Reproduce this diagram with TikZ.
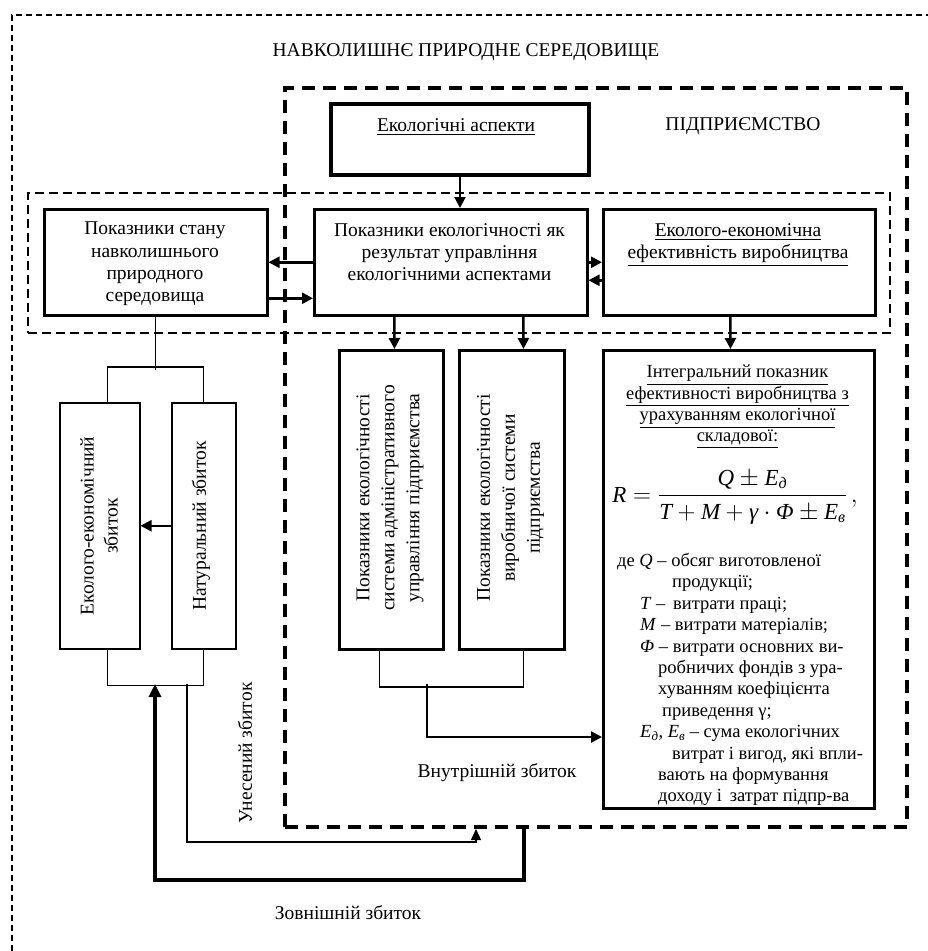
\documentclass[tikz,border=0pt]{standalone}
\usepackage{fontspec}
\setmainfont{Liberation Serif}
\usepackage{amsmath}
\usetikzlibrary{arrows.meta}
\newcommand{\mi}[1]{\text{\itshape #1}}
\tikzset{
  box/.style={draw, line width=2.5pt, inner sep=0pt, anchor=north west},
  heavybox/.style={draw, line width=3pt, inner sep=0pt, anchor=north west},
  lightbox/.style={draw, line width=1.5pt, inner sep=0pt, anchor=north west},
  arr/.style={line width=2.5pt, -{Triangle[length=11pt,width=11pt]}},
  heavyarr/.style={line width=3.5pt, -{Triangle[length=13pt,width=12pt]}},
  thinarr/.style={line width=1.3pt, -{Triangle[length=11pt,width=10pt]}},
  link/.style={line width=1.2pt},
  lbl/.style={font=\fontsize{19.5}{22.4}\selectfont, align=center, inner sep=0pt},
  vlbl/.style={font=\fontsize{19.5}{25}\selectfont, align=center, inner sep=0pt, rotate=90},
  smalllbl/.style={font=\fontsize{18.5}{21.3}\selectfont, inner sep=0pt},
}
\begin{document}
\begin{tikzpicture}[x=1pt,y=-1pt]
\useasboundingbox (0,0) rectangle (928,951);
\clip (0,0) rectangle (928,951);
% outer environment frame
\node[draw, line width=2pt, dash pattern=on 6pt off 4pt, anchor=north west, inner sep=0pt,
      minimum width=960pt, minimum height=990pt] (env) at (11,14) {};
\node[lbl] (envtxt) at (466,52) {НАВКОЛИШНЄ ПРИРОДНЕ СЕРЕДОВИЩЕ};
% enterprise frame
\node[draw, line width=4pt, dash pattern=on 13pt off 8pt, anchor=north west, inner sep=0pt,
      minimum width=622pt, minimum height=739pt] (ent) at (283,86) {};
\node[lbl] (enttxt) at (743,126) {ПІДПРИЄМСТВО};
% indicator band
\node[draw, line width=2pt, dash pattern=on 9pt off 5pt, anchor=north west, inner sep=0pt,
      minimum width=862pt, minimum height=140pt] (band) at (27,192) {};
% top box
\node[draw, line width=4pt, inner sep=0pt, anchor=north west, minimum width=258pt, minimum height=71pt] (eco) at (329,102) {};
\node[lbl] (ecotxt) at (456,127) {\underline{Екологічні аспекти}};
% three boxes in band
\node[box, minimum width=223pt, minimum height=106pt] (stan) at (43,208) {};
\node[lbl] (stantxt) at (155,264) {Показники стану\\навколишнього\\природного\\середовища};
\node[box, minimum width=273pt, minimum height=106pt] (mid) at (313,208) {};
\node[lbl, anchor=north] (midtxt) at (449.5,223) {Показники екологічності як\\результат управління\\екологічними аспектами};
\node[box, minimum width=272pt, minimum height=106pt] (right) at (602,208) {};
\node[lbl, anchor=north] (righttxt) at (738,223) {\underline{Еколого-економічна}\\\underline{ефективність виробництва}};
% lower enterprise boxes
\node[heavybox, minimum width=104pt, minimum height=299pt] (adm) at (338,349) {};
\node[vlbl] (admtxt) at (390,498) {Показники екологічності\\системи адміністративного\\управління підприємства};
\node[heavybox, minimum width=105pt, minimum height=299pt] (prod) at (458,349) {};
\node[vlbl] (prodtxt) at (510.5,498) {Показники екологічності\\виробничої системи\\підприємства};
\node[heavybox, minimum width=271pt, minimum height=458pt] (int) at (602,349) {};
\node[smalllbl, align=center, anchor=north] (inttitle) at (737.5,365) {\underline{Інтегральний показник}\\\underline{ефективності виробництва з}\\\underline{урахуванням екологічної}\\\underline{складової:}};
\node[inner sep=0pt, font=\fontsize{23}{28}\selectfont] (formula) at (735,497)
  {$\mi{R} = \dfrac{\mi{Q} \pm \mi{E}_{\mi{д}}}{\mi{T} + \mi{M} + \mi{γ}\cdot \mi{Φ} \pm \mi{E}_{\mi{в}}}\,,$};
\node[smalllbl, align=left, anchor=north west, font=\fontsize{18.5}{21.4}\selectfont] (intlist) at (617,553)
  {де \textit{Q} – обсяг виготовленої\\
   \hspace*{55pt}продукції;\\
   \hspace*{23pt}\textit{T} –\, витрати праці;\\
   \hspace*{23pt}\textit{M} – витрати матеріалів;\\
   \hspace*{23pt}\textit{Φ} – витрати основних ви-\\
   \hspace*{41pt}робничих фондів з ура-\\
   \hspace*{41pt}хуванням коефіцієнта\\
   \hspace*{45pt}приведення γ;\\
   \hspace*{23pt}\textit{E}\textsubscript{\textit{д}}, \textit{E}\textsubscript{\textit{в}} – сума екологічних\\
   \hspace*{55pt}витрат і вигод, які впли-\\
   \hspace*{41pt}вають на формування\\
   \hspace*{41pt}доходу і\, затрат підпр-ва};
% damage boxes (left)
\node[lightbox, minimum width=80pt, minimum height=246pt] (ecoec) at (59,402) {};
\node[vlbl, font=\fontsize{19.5}{24}\selectfont] (ecoectxt) at (99,526) {Еколого-економічний\\збиток};
\node[lightbox, minimum width=64pt, minimum height=246pt] (nat) at (171,402) {};
\node[vlbl] (nattxt) at (201,526) {Натуральний збиток};
% labels
\node[vlbl] (unestxt) at (245,753) {Унесений збиток};
\node[lbl] (inntxt) at (497,773) {Внутрішній збиток};
\node[lbl] (zovntxt) at (348,913) {Зовнішній збиток};
% helper coordinates
\coordinate (lbb) at (155,684);
\coordinate (lbu) at (187,684);
\coordinate (bj) at (427,684);
\coordinate (ib) at (427,737);
% connectors in band
\draw[arr, line width=2pt] (eco.south) -- (eco.south |- mid.north);
\draw[arr] (mid.west) -- (stan.east);
\draw[arr] ([yshift=-36pt]stan.east) -- ([yshift=-36pt]mid.west);
\draw[arr] (mid.east) -- (right.west);
\draw[arr] ([yshift=-18pt]right.west) -- ([yshift=-18pt]mid.east);
\draw[arr] ([xshift=-56.5pt]mid.south) -- ([xshift=3pt]adm.north);
\draw[arr] ([xshift=72.5pt]mid.south) -- ([xshift=11.5pt]prod.north);
\draw[arr] ([xshift=-9pt]right.south) -- ([xshift=-8.5pt]int.north);
% internal damage
\draw[link] ([xshift=-12pt]adm.south) -- ++(0,36) -| ([xshift=11.5pt]prod.south);
\draw[arr] (bj) -- (ib) -- (ib -| int.west);
% left side
\draw[link] (stan.south) -- ++(0,53);
\draw[link] ([xshift=8pt]ecoec.north) -- ++(0,-35) -| (nat.north);
\draw[link] ([xshift=8pt]ecoec.south) -- ++(0,36) -| (nat.south);
\draw[arr] (nat.west) -- (ecoec.east);
% external and carried-over damage
\draw[heavyarr] ([xshift=-72pt]ent.south) -- ++(0,51) -| (lbb);
\draw[thinarr] (lbu) -- ++(0,158) -| ([xshift=-120pt]ent.south);
\end{tikzpicture}
\end{document}
